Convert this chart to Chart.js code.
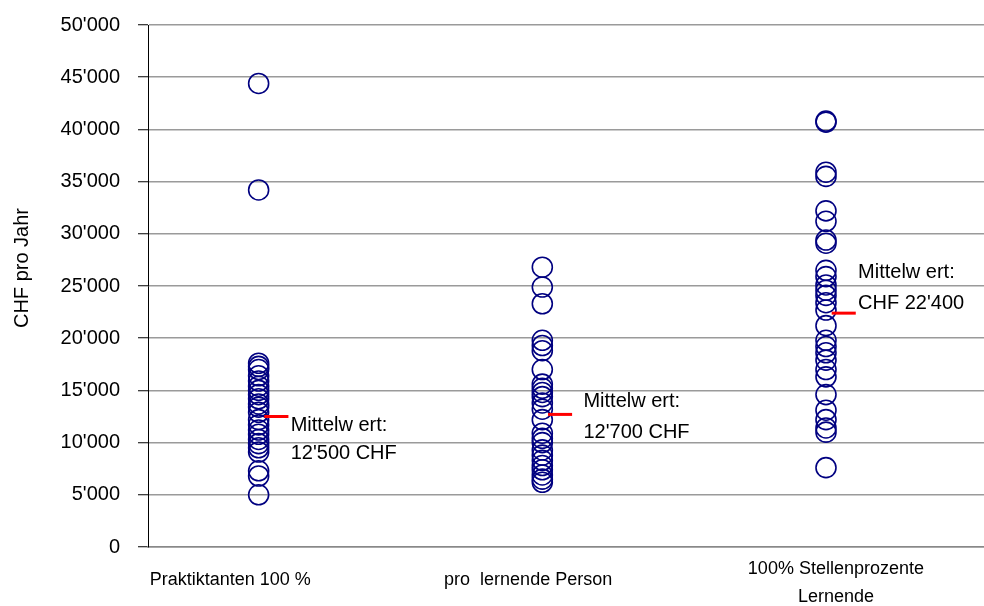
<!DOCTYPE html>
<html>
<head>
<meta charset="utf-8">
<script src="https://cdn.jsdelivr.net/npm/chart.js@4/dist/chart.umd.min.js"></script>
<style>
  body { margin: 0; background: #fff; }
</style>
</head>
<body>
<canvas id="chart" width="984" height="606"></canvas>
<script>
// categories (x = 1, 2, 3)
const categories = [["Praktiktanten 100 %"], ["pro  lernende Person"], ["100% Stellenprozente", "Lernende"]];

// CHF pro Jahr
const praktikanten = [44400, 34200, 17600, 17300, 17000, 16400, 15900, 15400, 15000, 14600, 14200, 13700, 13400, 12900, 12200, 11700, 11200, 10800, 10300, 9900, 9500, 9100, 7300, 6800, 5000];
const lernendePerson = [26800, 24900, 23300, 19800, 19300, 18800, 17000, 15600, 15200, 14800, 14400, 13800, 13200, 12200, 10900, 10400, 10000, 9300, 8800, 8300, 7800, 7400, 6900, 6500, 6200];
const stellenprozente = [40800, 40700, 35900, 35500, 32200, 31200, 29400, 29100, 26500, 25900, 25100, 24600, 24100, 23400, 22700, 21200, 19800, 19200, 18600, 17900, 17000, 16300, 14600, 13100, 12200, 11400, 11000, 7600];

// Mittelwerte
const mittelwerte = [12500, 12700, 22400];
const mittelwertTexte = [["Mittelw ert:", "12'500 CHF"], ["Mittelw ert:", "12'700 CHF"], ["Mittelw ert:", "CHF 22'400"]];

const yTicks = [0, 5000, 10000, 15000, 20000, 25000, 30000, 35000, 40000, 45000, 50000];
const yTitle = 'CHF pro Jahr';

const FONT = '"Liberation Sans", Arial, sans-serif';

function fmt(v) {
  return String(v).replace(/\B(?=(\d{3})+(?!\d))/g, "'");
}

let points = [];
[praktikanten, lernendePerson, stellenprozente].forEach(function (arr, i) {
  arr.forEach(function (v) { points.push({x: i + 1, y: v}) });
});

let meanSets = mittelwerte.map(function (m, i) {
  return {
    type: 'line',
    data: [{x: i + 1.02, y: m}, {x: i + 1.105, y: m}],
    borderColor: '#ff0000',
    borderWidth: 3,
    pointRadius: 0,
    order: 0
  };
});

// text next to the mean marks, category labels, axis title
const textPlugin = {
  id: 'textPlugin',
  afterDatasetsDraw: function (chart) {
    const ctx = chart.ctx, xs = chart.scales.x, ys = chart.scales.y;
    const area = chart.chartArea;
    const textX = [1.113, 2.145, 3.113];
    const offs = [[9, 37], [-13, 18], [-41, -10]];
    ctx.save();
    ctx.fillStyle = '#000';
    ctx.textBaseline = 'middle';
    ctx.font = '20px ' + FONT;
    mittelwertTexte.forEach(function (lines, i) {
      const x = xs.getPixelForValue(textX[i]);
      const y0 = ys.getPixelForValue(mittelwerte[i]);
      ctx.fillText(lines[0], x, y0 + offs[i][0]);
      ctx.fillText(lines[1], x, y0 + offs[i][1]);
    });

    const labelPos = [0.9, 1.95, 3.035];
    ctx.font = '18px ' + FONT;
    ctx.textAlign = 'center';
    categories.forEach(function (lines, i) {
      const x = xs.getPixelForValue(labelPos[i]);
      const start = area.bottom + 33 - (lines.length - 1) * 11;
      lines.forEach(function (t, j) { ctx.fillText(t, x, start + j * 28) });
    });

    // y title, sits a bit above the middle like the original
    ctx.font = '20px ' + FONT;
    ctx.translate(22, (area.top + area.bottom) / 2 - 18);
    ctx.rotate(-Math.PI / 2);
    ctx.fillText(yTitle, 0, 0);
    ctx.restore();
  }
};

let ctx = document.getElementById('chart').getContext('2d');
new Chart(ctx, {
  type: 'scatter',
  data: {
    datasets: [{
      data: points,
      pointStyle: 'circle',
      pointRadius: 10,
      pointBorderWidth: 1.6,
      borderColor: '#000080',
      backgroundColor: 'rgba(0,0,0,0)',
      order: 1
    }].concat(meanSets)
  },
  options: {
    responsive: false,
    animation: false,
    layout: { autoPadding: false, padding: { top: 25, right: 0, left: 0, bottom: 0 } },
    plugins: { legend: { display: false }, tooltip: { enabled: false } },
    scales: {
      x: {
        type: 'linear',
        min: 0.61,
        max: 3.557,
        afterFit: function (s) { s.height = 59; s.paddingLeft = 0; s.paddingRight = 0 },
        grid: { display: false, drawTicks: false },
        border: { color: '#888', width: 1.5 },
        ticks: { display: false }
      },
      y: {
        min: 0,
        max: 50000,
        afterBuildTicks: function (s) { s.ticks = yTicks.map(function (v) { return {value: v} }) },
        afterFit: function (s) { s.width = 148; s.paddingTop = 0; s.paddingBottom = 0 },
        grid: { color: '#9a9a9a', lineWidth: 1.5, tickColor: '#000', tickLength: 10, tickWidth: 1 },
        border: { color: '#000', width: 1 },
        title: { display: false },
        ticks: {
          padding: 18,
          color: '#000',
          font: { family: FONT, size: 20 },
          callback: function (v) { return fmt(v) }
        }
      }
    }
  },
  plugins: [textPlugin]
});
</script>
</body>
</html>
